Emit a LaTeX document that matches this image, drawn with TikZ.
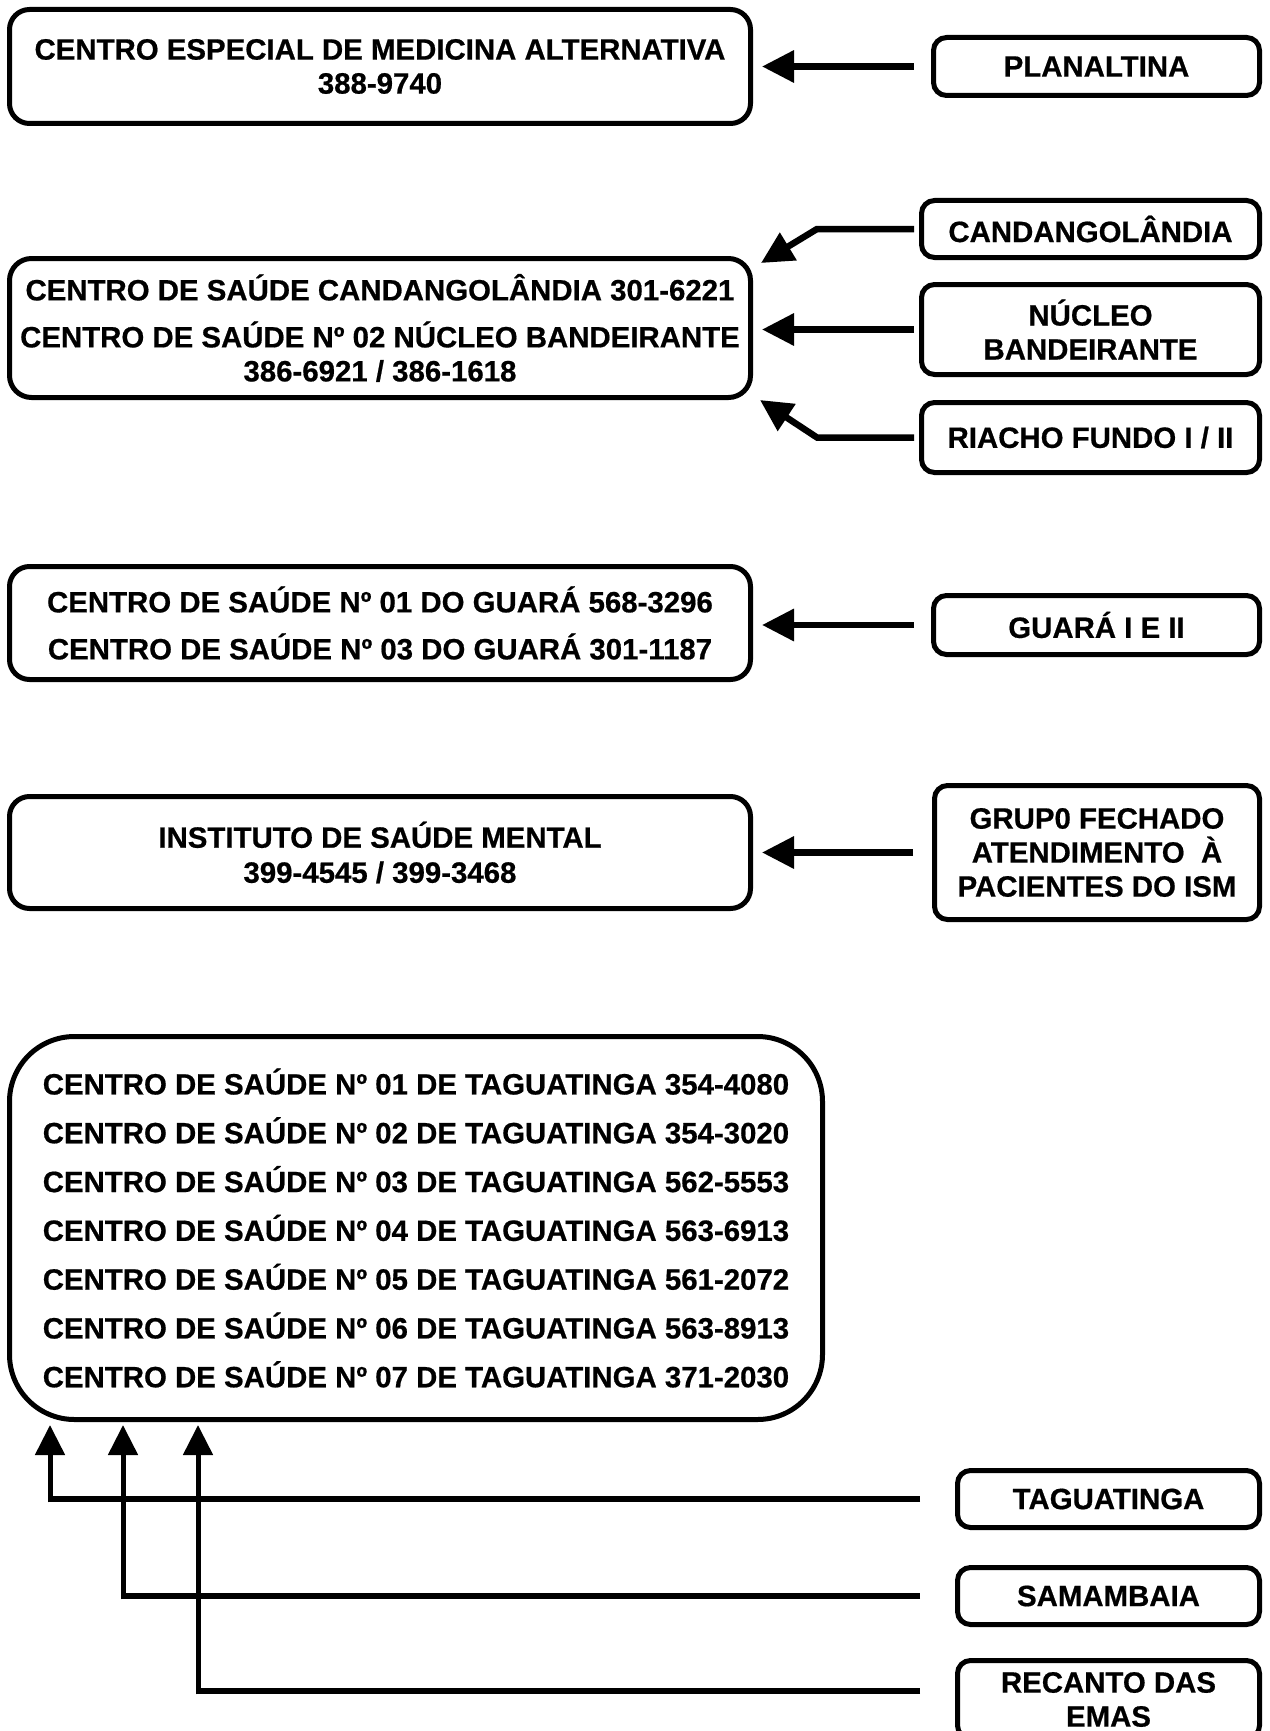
\documentclass[tikz,border=0pt]{standalone}
\usepackage{fontspec}
\setmainfont{Liberation Sans}[BoldFeatures={FakeBold=0.6}]
\usetikzlibrary{arrows.meta}
\begin{document}
\begin{tikzpicture}[x=1pt,y=-1pt,
  box/.style={draw, line width=5pt, rounded corners=#1, anchor=north west,
    inner sep=0pt, outer sep=0pt, align=center,
    font=\bfseries\fontsize{29.4}{34}\selectfont},
  box/.default=13pt,
  harr/.style={line width=6.5pt, -{Triangle[length=32pt,width=31pt]}},
  hline/.style={line width=6.5pt},
  varr/.style={line width=5pt, -{Triangle[length=30pt,width=29pt]}}]
\useasboundingbox (0,0) rectangle (1269,1731);
% left boxes
\node[box=20pt, minimum width=741pt, minimum height=114pt] (b1) at (9.5,9.5)
  {CENTRO ESPECIAL DE MEDICINA ALTERNATIVA\\388-9740};
\node[box=22pt, minimum width=741pt, minimum height=139pt] (b2) at (9.5,258.5)
  {CENTRO DE SAÚDE CANDANGOLÂNDIA 301-6221\\[13pt]CENTRO DE SAÚDE Nº 02 NÚCLEO BANDEIRANTE\\386-6921 / 386-1618};
\node[box=20pt, minimum width=741pt, minimum height=113pt,
  font=\bfseries\fontsize{29.4}{47}\selectfont] (b3) at (9.5,566.5)
  {CENTRO DE SAÚDE Nº 01 DO GUARÁ 568-3296\\CENTRO DE SAÚDE Nº 03 DO GUARÁ 301-1187};
\node[box=20pt, minimum width=741pt, minimum height=112pt,
  font=\bfseries\fontsize{29.4}{35}\selectfont] (b4) at (9.5,796.5)
  {INSTITUTO DE SAÚDE MENTAL\\399-4545 / 399-3468};
\node[box=65pt, minimum width=813pt, minimum height=383pt,
  font=\bfseries\fontsize{29.4}{48.8}\selectfont] (b5) at (9.5,1036.5)
  {CENTRO DE SAÚDE Nº 01 DE TAGUATINGA 354-4080\\
   CENTRO DE SAÚDE Nº 02 DE TAGUATINGA 354-3020\\
   CENTRO DE SAÚDE Nº 03 DE TAGUATINGA 562-5553\\
   CENTRO DE SAÚDE Nº 04 DE TAGUATINGA 563-6913\\
   CENTRO DE SAÚDE Nº 05 DE TAGUATINGA 561-2072\\
   CENTRO DE SAÚDE Nº 06 DE TAGUATINGA 563-8913\\
   CENTRO DE SAÚDE Nº 07 DE TAGUATINGA 371-2030};
% right boxes
\node[box, minimum width=326pt, minimum height=58pt] (plan) at (933.5,37.5) {PLANALTINA};
\node[box, minimum width=338pt, minimum height=57pt] (cand) at (921.5,200.5) {CANDANGOLÂNDIA};
\node[box, minimum width=338pt, minimum height=90pt] (nuc) at (921.5,284.5) {NÚCLEO\\BANDEIRANTE};
\node[box, minimum width=338pt, minimum height=70pt] (ria) at (921.5,402.5) {RIACHO FUNDO I / II};
\node[box, minimum width=326pt, minimum height=59pt] (gua) at (933.5,595.5) {GUARÁ I E II};
\node[box, minimum width=325pt, minimum height=134pt] (gru) at (934.5,785.5) {GRUP0 FECHADO\\ATENDIMENTO~~À\\PACIENTES DO ISM};
\node[box, minimum width=302pt, minimum height=57pt] (tag) at (957.5,1470.5) {TAGUATINGA};
\node[box, minimum width=302pt, minimum height=57pt] (sam) at (957.5,1567.5) {SAMAMBAIA};
\node[box, minimum width=302pt, minimum height=78pt] (rec) at (957.5,1660.5) {RECANTO DAS\\EMAS};
% arrows to upper boxes
\draw[harr, shorten <=20pt, shorten >=11.5pt] (plan.west) -- (plan.west -| b1.east);
\draw[harr, shorten <=7.5pt] (cand.west) -- ++(-104.5,0) -- ([shift={(10.5,4.5)}]b2.north east);
\draw[harr, shorten <=7.5pt, shorten >=11.5pt] (nuc.west) -- (nuc.west -| b2.east);
\draw[harr, shorten <=7.5pt] (ria.west) -- ++(-104.5,0) -- ([shift={(9.5,2.5)}]b2.south east);
\draw[harr, shorten <=20pt, shorten >=11.5pt] (gua.west) -- (gua.west -| b3.east);
\draw[harr, shorten <=21.5pt, shorten >=11.5pt] (gru.west) -- (gru.west -| b4.east);
% arrows to Taguatinga box
\coordinate (t1) at (50,1499);
\coordinate (t2) at (123,1596);
\coordinate (t3) at (198,1691);
\draw[hline, shorten <=37.5pt, shorten >=-2.5pt] (tag.west) -- (t1);
\draw[hline, shorten <=37.5pt, shorten >=-2.5pt] (sam.west) -- (t2);
\draw[hline, shorten <=37.5pt, shorten >=-2.5pt] (rec.west |- t3) -- (t3);
\draw[varr, shorten <=-3.25pt, shorten >=5.5pt] (t1) -- (t1 |- b5.south);
\draw[varr, shorten <=-3.25pt, shorten >=5.5pt] (t2) -- (t2 |- b5.south);
\draw[varr, shorten <=-3.25pt, shorten >=5.5pt] (t3) -- (t3 |- b5.south);
\end{tikzpicture}
\end{document}
